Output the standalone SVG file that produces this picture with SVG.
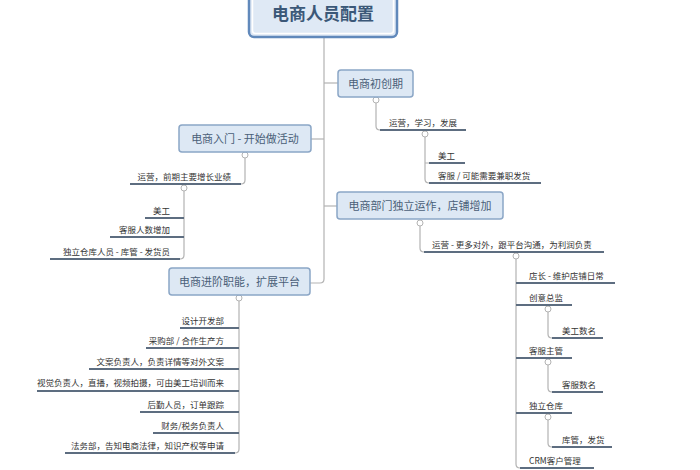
<svg xmlns="http://www.w3.org/2000/svg" width="700" height="470" viewBox="0 0 700 470">
<style>
text{font-family:"Noto Sans CJK SC","Liberation Sans",sans-serif}
.box{fill:#dde8f4;stroke:#8ba6c6;stroke-width:1.5}
.bt{font-size:11px;fill:#4a5f78;text-anchor:middle}
.it{font-size:8.5px;fill:#333}
.r{text-anchor:end}
.ul{stroke:#5d6d80;stroke-width:2;fill:none}
.cn{stroke:#b3b3b3;stroke-width:1.2;fill:none}
.dot{fill:#fff;stroke:#b3b3b3;stroke-width:1}
</style>
<rect width="700" height="470" fill="#fff"/>
<g id="connectors">
<path class="cn" d="M324,37 V279 Q324,283 320,283 H310"/>
<path class="cn" d="M324,83 H338"/>
<path class="cn" d="M324,139 H311"/>
<path class="cn" d="M324,206 H337"/>
<path class="cn" d="M376,103 V126 Q376,130 380,130"/>
<path class="cn" d="M425,137 V179 Q425,183 429,183 M425,163 H429"/>
<path class="cn" d="M420,226 V248 Q420,252 424,252"/>
<path class="cn" d="M516,259 V464 Q516,468 520,468"/>
<path class="cn" d="M548,312 V334 Q548,338 552,338"/>
<path class="cn" d="M548,365 V388 Q548,392 552,392"/>
<path class="cn" d="M548,420 V443 Q548,447 552,447"/>
<path class="cn" d="M245,158 V180 Q245,184 241,184"/>
<path class="cn" d="M184,191 V255 Q184,259 180,259"/>
<path class="cn" d="M239,301 V449 Q239,453 235,453"/>
<circle class="dot" cx="376" cy="100" r="3"/>
<circle class="dot" cx="425" cy="134" r="3"/>
<circle class="dot" cx="420" cy="223" r="3"/>
<circle class="dot" cx="516" cy="256" r="3"/>
<circle class="dot" cx="548" cy="309" r="3"/>
<circle class="dot" cx="548" cy="362" r="3"/>
<circle class="dot" cx="548" cy="417" r="3"/>
<circle class="dot" cx="245" cy="155" r="3"/>
<circle class="dot" cx="184" cy="188" r="3"/>
<circle class="dot" cx="239" cy="298" r="3"/>
</g>
<g id="root">
<rect x="249" y="-6" width="148" height="43" rx="5" fill="#dfe9f5" stroke="#6189bb" stroke-width="2.5"/>
<rect x="252.5" y="-3" width="141" height="36.5" rx="3" fill="none" stroke="#fff" stroke-width="1.5"/>
<text x="323" y="20" font-size="17" font-weight="bold" fill="#3b5878" text-anchor="middle">电商人员配置</text>
</g>
<g id="b1"><rect class="box" x="338" y="70" width="75" height="27" rx="3"/><text class="bt" x="375.5" y="87.5">电商初创期</text></g>
<g id="b2"><rect class="box" x="179" y="125" width="132" height="27" rx="3"/><text class="bt" x="245" y="142.5">电商入门 - 开始做活动</text></g>
<g id="b3"><rect class="box" x="337" y="192" width="166" height="27" rx="3"/><text class="bt" x="420" y="209.5">电商部门独立运作，店铺增加</text></g>
<g id="b4"><rect class="box" x="169" y="268" width="141" height="27" rx="3"/><text class="bt" x="239.5" y="285.5">电商进阶职能，扩展平台</text></g>
<g id="n1"><text class="it" x="389" y="126">运营，学习，发展</text><path class="ul" d="M380,130 H466"/></g>
<g id="n1a"><text class="it" x="438" y="159">美工</text><path class="ul" d="M429,163 H465"/></g>
<g id="n1b"><text class="it" x="438" y="179">客服 / 可能需要兼职发货</text><path class="ul" d="M429,183 H541"/></g>
<g id="n3"><text class="it" x="432" y="248">运营 - 更多对外，跟平台沟通，为利润负责</text><path class="ul" d="M424,252 H604"/></g>
<g id="n3a"><text class="it" x="529" y="279">店长 - 维护店铺日常</text><path class="ul" d="M516,283 H615"/></g>
<g id="n3b"><text class="it" x="529" y="301">创意总监</text><path class="ul" d="M516,305 H572"/></g>
<g id="n3b1"><text class="it" x="562" y="334">美工数名</text><path class="ul" d="M552,338 H603"/></g>
<g id="n3c"><text class="it" x="529" y="354">客服主管</text><path class="ul" d="M516,358 H572"/></g>
<g id="n3c1"><text class="it" x="562" y="388">客服数名</text><path class="ul" d="M552,392 H603"/></g>
<g id="n3d"><text class="it" x="529" y="409">独立仓库</text><path class="ul" d="M516,413 H572"/></g>
<g id="n3d1"><text class="it" x="562" y="443">库管，发货</text><path class="ul" d="M552,447 H612"/></g>
<g id="n3e"><text class="it" x="529" y="464">CRM客户管理</text><path class="ul" d="M520,468 H594"/></g>
<g id="n2"><text class="it r" x="231" y="180">运营，前期主要增长业绩</text><path class="ul" d="M241,184 H130"/></g>
<g id="n2a"><text class="it r" x="170" y="214">美工</text><path class="ul" d="M184,218 H145"/></g>
<g id="n2b"><text class="it r" x="170" y="233">客服人数增加</text><path class="ul" d="M184,237 H110"/></g>
<g id="n2c"><text class="it r" x="170" y="255">独立仓库人员 - 库管 - 发货员</text><path class="ul" d="M180,259 H50"/></g>
<g id="n4a"><text class="it r" x="224" y="324">设计开发部</text><path class="ul" d="M239,328 H180"/></g>
<g id="n4b"><text class="it r" x="224" y="344">采购部 / 合作生产方</text><path class="ul" d="M239,348 H146"/></g>
<g id="n4c"><text class="it r" x="224" y="365">文案负责人，负责详情等对外文案</text><path class="ul" d="M239,369 H89"/></g>
<g id="n4d"><text class="it r" x="224" y="386">视觉负责人，直播，视频拍摄，可由美工培训而来</text><path class="ul" d="M239,391 H37"/></g>
<g id="n4e"><text class="it r" x="224" y="408">后勤人员，订单跟踪</text><path class="ul" d="M239,412 H140"/></g>
<g id="n4f"><text class="it r" x="224" y="429">财务/税务负责人</text><path class="ul" d="M239,433 H153"/></g>
<g id="n4g"><text class="it r" x="224" y="449">法务部，告知电商法律，知识产权等申请</text><path class="ul" d="M235,453 H65"/></g>
</svg>
